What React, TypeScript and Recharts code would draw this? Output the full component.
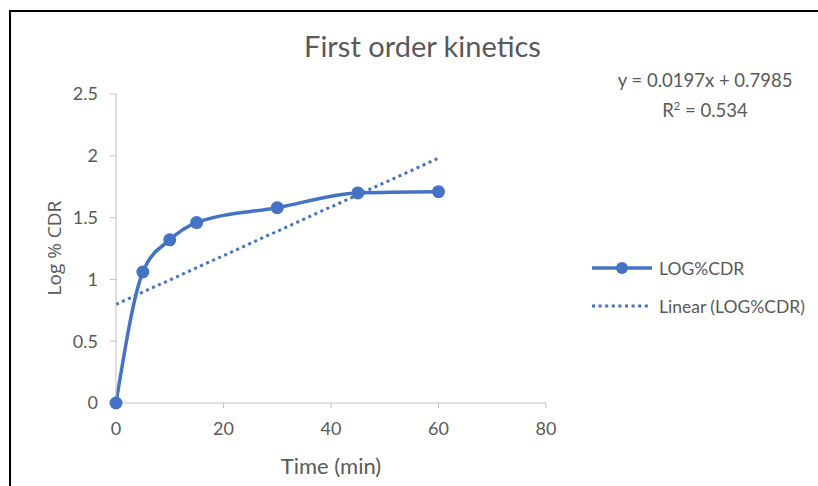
import { LineChart, Line, XAxis, YAxis, Label } from 'recharts'

const times = [0, 5, 10, 15, 30, 45, 60]
const logCdr = [0, 1.06, 1.32, 1.46, 1.58, 1.7, 1.71]
const xTicks = [0, 20, 40, 60, 80]
const yTicks = [0, 0.5, 1, 1.5, 2, 2.5]

// trendline as printed on the chart
const slope = 0.0197
const intercept = 0.7985
const rSquared = '0.534'
const trendEnds = [0, 60]

const data = times.map((t, i) => ({
  x: t,
  cdr: logCdr[i],
  trend: trendEnds.includes(t) ? intercept + slope * t : null,
}))

const blue = '#4472C4'
const grey = '#595959'
const axisGrey = '#BFBFBF'
const font = 'Lato, "Liberation Sans", sans-serif'

function LegendBox() {
  return (
    <div style={{ position: 'absolute', left: 592, top: 256, fontFamily: font, fontSize: 17.5, color: grey }}>
      <div style={{ display: 'flex', alignItems: 'center', height: 24 }}>
        <svg width={64} height={16}>
          <line x1={0} y1={8} x2={60} y2={8} stroke={blue} strokeWidth={3.5} />
          <circle cx={30} cy={8} r={6} fill={blue} />
        </svg>
        <span style={{ marginLeft: 3 }}>LOG%CDR</span>
      </div>
      <div style={{ display: 'flex', alignItems: 'center', height: 24, marginTop: 14 }}>
        <svg width={64} height={16}>
          <line x1={0} y1={8} x2={58} y2={8} stroke={blue} strokeWidth={3} strokeDasharray="3 3.6" />
        </svg>
        <span style={{ marginLeft: 3 }}>Linear (LOG%CDR)</span>
      </div>
    </div>
  )
}

export default function App() {
  return (
    <div style={{ position: 'absolute', left: 0, top: 0, width: 818, height: 486, background: '#fff', overflow: 'hidden' }}>
      <div
        style={{
          position: 'absolute',
          left: 9,
          top: 10,
          width: 900,
          height: 600,
          borderTop: '2px solid #000',
          borderLeft: '2px solid #000',
        }}
      />
      <div
        style={{
          position: 'absolute',
          left: 0,
          width: 845,
          top: 30,
          textAlign: 'center',
          fontFamily: font,
          fontSize: 29,
          color: grey,
          lineHeight: '32px',
        }}
      >
        First order kinetics
      </div>
      <div
        style={{
          position: 'absolute',
          left: 605,
          width: 200,
          top: 68,
          textAlign: 'center',
          fontFamily: font,
          fontSize: 18.5,
          color: grey,
          lineHeight: '25px',
        }}
      >
        <div>y = {slope}x + {intercept}</div>
        <div>
          R<sup style={{ fontSize: 11 }}>2</sup> = {rSquared}
        </div>
      </div>
      <LineChart
        width={818}
        height={486}
        data={data}
        margin={{ top: 94, right: 272, left: 56, bottom: 23 }}
        style={{ position: 'absolute', left: 0, top: 0 }}
      >
        <XAxis
          dataKey="x"
          type="number"
          domain={[0, 80]}
          ticks={xTicks}
          height={60}
          stroke={axisGrey}
          tickSize={5}
          tickMargin={14}
          tick={{ fill: grey, fontSize: 18, fontFamily: font }}
        >
          <Label
            content={() => (
              <text x={331} y={465} textAnchor="middle" dominantBaseline="central" fill={grey} fontSize={22} fontFamily={font}>
                Time (min)
              </text>
            )}
          />
        </XAxis>
        <YAxis
          type="number"
          domain={[0, 2.5]}
          ticks={yTicks}
          width={60}
          stroke={axisGrey}
          tickSize={6}
          tickMargin={12}
          tick={{ fill: grey, fontSize: 18, fontFamily: font }}
        >
          <Label
            content={() => (
              <text
                x={54}
                y={248}
                transform="rotate(-90 54 248)"
                textAnchor="middle"
                dominantBaseline="central"
                fill={grey}
                fontSize={19}
                fontFamily='"Open Sans", sans-serif'
              >
                Log % CDR
              </text>
            )}
          />
        </YAxis>
        <Line
          dataKey="trend"
          name="Linear (LOG%CDR)"
          type="linear"
          connectNulls
          stroke={blue}
          strokeWidth={3}
          strokeDasharray="3 3.6"
          dot={false}
          activeDot={false}
          isAnimationActive={false}
        />
        <Line
          dataKey="cdr"
          name="LOG%CDR"
          type="monotone"
          stroke={blue}
          strokeWidth={3.5}
          dot={{ r: 6.5, fill: blue, stroke: blue, strokeWidth: 0 }}
          activeDot={false}
          isAnimationActive={false}
        />
      </LineChart>
      <LegendBox />
    </div>
  )
}
